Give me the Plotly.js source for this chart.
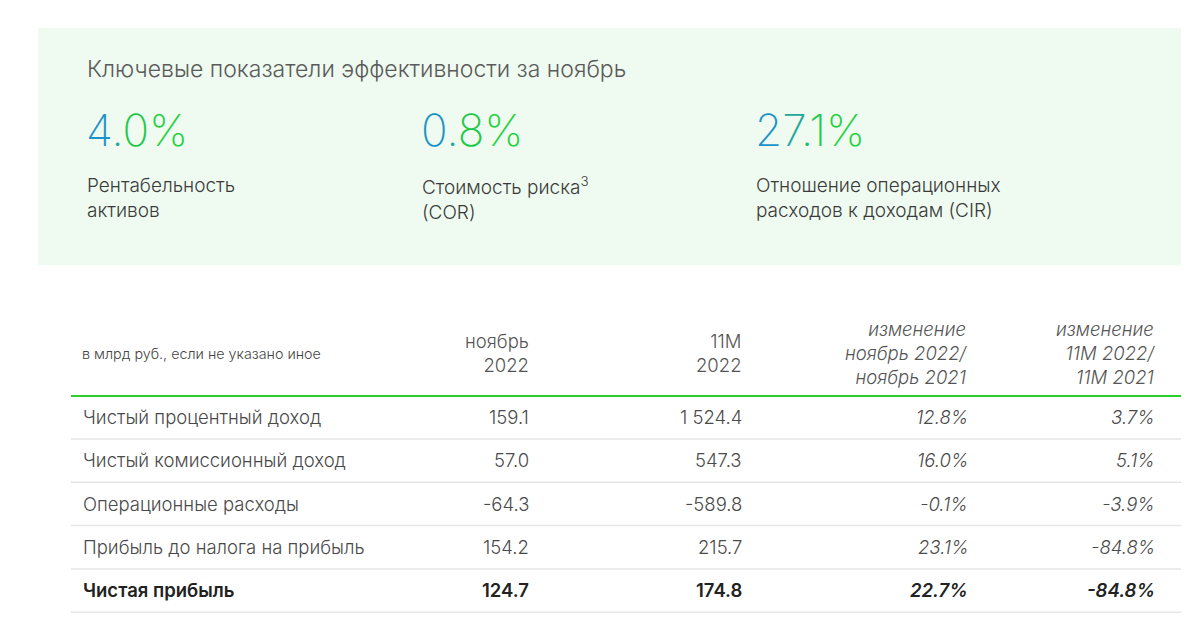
<!DOCTYPE html>
<html>
<head>
<meta charset="utf-8">
<script src="https://cdn.plot.ly/plotly-3.0.1.min.js"></script>
<style>html,body{margin:0;padding:0;background:#fff;}#chart{width:1200px;height:628px;}</style>
</head>
<body>
<div id="chart"></div>
<script>
// ---- data ----
const panelTitle = "Ключевые показатели эффективности за ноябрь";
const kpiValues = ["4.0%", "0.8%", "27.1%"];
const kpiLabels = ["Рентабельность<br>активов", "Стоимость риска<sup>3</sup><br>(COR)", "Отношение операционных<br>расходов к доходам (CIR)"];
const unitNote = "в млрд руб., если не указано иное";
const columnHeaders = ["ноябрь<br>2022", "11M<br>2022", "изменение<br>ноябрь 2022/<br>ноябрь 2021", "изменение<br>11M 2022/<br>11M 2021"];
const rowLabels = ["Чистый процентный доход", "Чистый комиссионный доход", "Операционные расходы", "Прибыль до налога на прибыль", "Чистая прибыль"];
const nov2022 = ["159.1", "57.0", "-64.3", "154.2", "124.7"];
const m11_2022 = ["1 524.4", "547.3", "-589.8", "215.7", "174.8"];
const chgNov = ["12.8%", "16.0%", "-0.1%", "23.1%", "22.7%"];
const chg11M = ["3.7%", "5.1%", "-3.9%", "-84.8%", "-84.8%"];

// ---- style / layout constants ----
const FONT = "Inter, Open Sans, Noto Sans, sans-serif";
const gradient = ["#1b93c9", "#1ea79a", "#20bb6a", "#22c84a", "#23d13c"];
const kpiX = [88, 423, 757];
const colRight = [531, 744, 970, 1157];
const rowY0 = 417, rowStep = 43.3;

function gradText(s) {
  const chars = Array.from(s);
  return chars.map((c, i) => {
    const idx = Math.round(i * (gradient.length - 1) / Math.max(1, chars.length - 1));
    return '<span style="color:' + gradient[idx] + '">' + c + '</span>';
  }).join('');
}

const annotations = [];
const shapes = [];

// panel background
shapes.push({type: 'rect', xref: 'x', yref: 'y', x0: 38, x1: 1181, y0: 28, y1: 265,
  fillcolor: '#effbf0', line: {width: 0}, layer: 'below'});

annotations.push({x: 85, y: 69, xref: 'x', yref: 'y', xanchor: 'left', yanchor: 'middle',
  text: panelTitle, showarrow: false, font: {family: FONT, size: 23, color: '#5a5a5a', weight: 300}});

kpiValues.forEach((v, i) => {
  annotations.push({x: kpiX[i] - 4, y: 130, xref: 'x', yref: 'y', xanchor: 'left', yanchor: 'middle',
    text: gradText(v), showarrow: false, font: {family: FONT, size: 44, color: '#21c148', weight: 200}});
  annotations.push({x: kpiX[i] - 3, y: 198, xref: 'x', yref: 'y', xanchor: 'left', yanchor: 'middle', align: 'left',
    text: kpiLabels[i], showarrow: false, font: {family: FONT, size: 19, color: '#3a3a3a', weight: 350}});
});

// table header
annotations.push({x: 80, y: 353, xref: 'x', yref: 'y', xanchor: 'left', yanchor: 'middle',
  text: unitNote, showarrow: false, font: {family: FONT, size: 14.3, color: '#444', weight: 350}});
columnHeaders.forEach((h, j) => {
  const italic = j >= 2;
  annotations.push({x: colRight[j], y: 353, xref: 'x', yref: 'y', xanchor: 'right', yanchor: 'middle', align: 'right',
    text: italic ? '<i>' + h.split('<br>').join('</i><br><i>') + '</i>' : h,
    showarrow: false, font: {family: FONT, size: 18.5, color: '#555', weight: 300}});
});

shapes.push({type: 'line', xref: 'x', yref: 'y', x0: 71, x1: 1181, y0: 396, y1: 396,
  line: {color: '#2bd12b', width: 2}});

// table body
const cols = [nov2022, m11_2022, chgNov, chg11M];
rowLabels.forEach((lab, i) => {
  const y = rowY0 + i * rowStep;
  const bold = i === rowLabels.length - 1;
  const wrap = (t, it) => (it ? '<i>' + t + '</i>' : t);
  const f = {family: FONT, size: 18.5, color: bold ? '#222' : '#4a4a4a', weight: bold ? 600 : 300};
  annotations.push({x: 81, y: y, xref: 'x', yref: 'y', xanchor: 'left', yanchor: 'middle',
    text: wrap(lab, false), showarrow: false, font: f});
  cols.forEach((arr, j) => {
    annotations.push({x: colRight[j], y: y, xref: 'x', yref: 'y', xanchor: 'right', yanchor: 'middle',
      text: wrap(arr[i], j >= 2), showarrow: false, font: f});
  });
  shapes.push({type: 'line', xref: 'x', yref: 'y', x0: 71, x1: 1181, y0: y + 22, y1: y + 22,
    line: {color: '#e6e6e6', width: 1.5}});
});

const layout = {
  width: 1200, height: 628,
  margin: {l: 0, r: 0, t: 0, b: 0},
  paper_bgcolor: '#ffffff', plot_bgcolor: '#ffffff',
  xaxis: {range: [0, 1200], visible: false, fixedrange: true},
  yaxis: {range: [628, 0], visible: false, fixedrange: true},
  showlegend: false,
  annotations: annotations,
  shapes: shapes
};

Plotly.newPlot('chart', [{x: [], y: [], type: 'scatter', mode: 'markers', hoverinfo: 'skip'}], layout, {displayModeBar: false, staticPlot: true});
</script>
</body>
</html>
